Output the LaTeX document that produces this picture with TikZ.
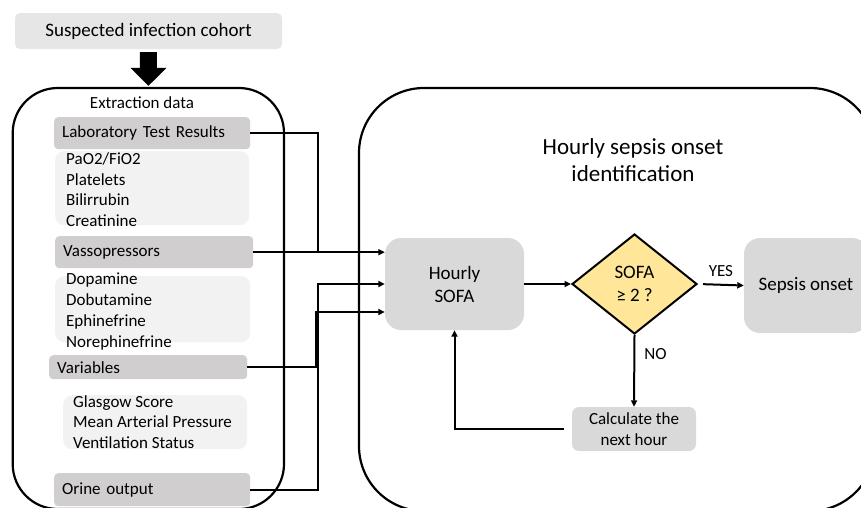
\documentclass[tikz,border=0pt]{standalone}
\usepackage{fontspec}
\setmainfont{Carlito}
\usetikzlibrary{arrows.meta,shapes.geometric,calc}
\definecolor{cohortfill}{RGB}{231,230,230}
\definecolor{hdrfill}{RGB}{208,206,206}
\definecolor{itemfill}{RGB}{242,242,242}
\definecolor{stepfill}{RGB}{217,217,217}
\definecolor{decfill}{RGB}{255,230,153}
\begin{document}
\begin{tikzpicture}[x=1pt,y=-1pt,
  panel/.style={draw=black, line width=2.2pt, inner sep=0pt, rounded corners=#1},
  hdr/.style={fill=hdrfill, rounded corners=4pt, anchor=north west, inner xsep=8pt, inner ysep=0pt,
    align=left, font=\fontsize{17}{20.6}\selectfont},
  itembox/.style={fill=itemfill, rounded corners=9pt, anchor=north west, inner sep=0pt},
  itemtext/.style={anchor=base west, inner sep=0pt, font=\fontsize{17}{20.6}\selectfont},
  stepbox/.style={fill=stepfill, rounded corners=#1, inner sep=0pt, align=center},
  conn/.style={line width=2pt},
  arr/.style={conn, -{Triangle[length=6.5pt,width=6pt]}},
  lbl/.style={inner sep=0pt, font=\fontsize{17}{20.6}\selectfont}
]
\useasboundingbox (0,0) rectangle (861,507);
\clip (0,0) rectangle (861,507);

% cohort and extraction arrow
\node[fill=cohortfill, rounded corners=5pt, minimum width=267pt, minimum height=36pt, inner sep=0pt,
  font=\fontsize{19}{23}\selectfont] (cohort) at (148.5,31) {Suspected infection cohort};

% two big panels
\node[panel=45pt, minimum width=271.3pt, minimum height=421pt] (left) at (148.35,298.5) {};
\node[panel=65pt, minimum width=516pt, minimum height=423pt] (right) at (617,299.5) {};

\draw[line width=17pt, -{Triangle[length=18pt,width=35pt]}, shorten <=3pt, shorten >=1pt]
  (cohort.south) -- (left.north);

\node[lbl] (extr) at (142,103) {Extraction data};

% left panel: grouped data sources
\node[hdr, minimum width=196pt, minimum height=32pt, text width=180pt] (lab) at (54,117) {Laboratory Test Results};
\node[itembox, minimum width=194pt, minimum height=74pt] (labitems) at (55,151) {};
\node[itemtext] (l1) at (66,164) {PaO2/FiO2};
\node[itemtext] (l2) at (66,185) {Platelets};
\node[itemtext] (l3) at (66,205) {Bilirrubin};
\node[itemtext] (l4) at (66,226) {Creatinine};

\node[hdr, minimum width=198pt, minimum height=32pt, text width=182pt] (vaso) at (55,236) {Vassopressors};
\node[itembox, minimum width=195pt, minimum height=66pt] (vasoitems) at (55,276) {};
\node[itemtext] (v1) at (66,284) {Dopamine};
\node[itemtext] (v2) at (66,305) {Dobutamine};
\node[itemtext] (v3) at (66,326) {Ephinefrine};
\node[itemtext] (v4) at (66,347) {Norephinefrine};

\node[hdr, minimum width=198pt, minimum height=24pt, text width=182pt] (vars) at (49,355) {Variables};
\node[itembox, minimum width=184pt, minimum height=54pt] (varsitems) at (63,395) {};
\node[itemtext] (g1) at (73,407) {Glasgow Score};
\node[itemtext] (g2) at (73,427) {Mean Arterial Pressure};
\node[itemtext] (g3) at (73,448) {Ventilation Status};

\node[hdr, minimum width=196pt, minimum height=33pt, text width=180pt] (orine) at (54,473) {Orine output};

% right panel: hourly loop
\node[inner sep=0pt, align=center, font=\fontsize{23}{27.5}\selectfont] (title) at (633,160)
  {Hourly sepsis onset\\identification};

\node[stepbox=16pt, minimum width=139pt, minimum height=92pt, font=\fontsize{19}{23}\selectfont]
  (sofa) at (454.5,284) {Hourly\\SOFA};
\node[diamond, draw=black, line width=2pt, fill=decfill, aspect=1.25, minimum width=125pt,
  minimum height=100pt, inner sep=0pt, align=center, font=\fontsize{19}{23}\selectfont]
  (dec) at (634.5,284) {SOFA\\≥ 2 ?};
\node[stepbox=16pt, minimum width=124pt, minimum height=95pt, font=\fontsize{19}{23}\selectfont]
  (onset) at (806,285.5) {Sepsis onset};
\node[stepbox=7pt, minimum width=124pt, minimum height=44pt, font=\fontsize{17}{21}\selectfont]
  (calc) at (634,429) {Calculate the\\next hour};

% bus joints between the panels
\coordinate (j1) at (318,253);
\coordinate (j2) at (318,284);
\coordinate (j3) at (316,312);

\draw[conn] (lab.east) -| (j1);
\draw[arr] (vaso.east) -- (vaso.east -| sofa.west);
\draw[arr] (orine.east) -| (j2) -- (j2 -| sofa.west);
\draw[arr] (vars.east) -| (j3) -- (j3 -| sofa.west);

\draw[arr] (sofa.east) -- (dec.west);
\draw[arr, shorten <=5pt] (dec.east) -- (onset.west)
  node[lbl, midway, above=7pt] (yes) {YES};
\draw[arr] (dec.south) -- (calc.north)
  node[lbl, pos=0.27, right=9pt] (no) {NO};
\draw[arr, shorten <=8pt] (calc.west) -| (sofa.south);
\end{tikzpicture}
\end{document}
